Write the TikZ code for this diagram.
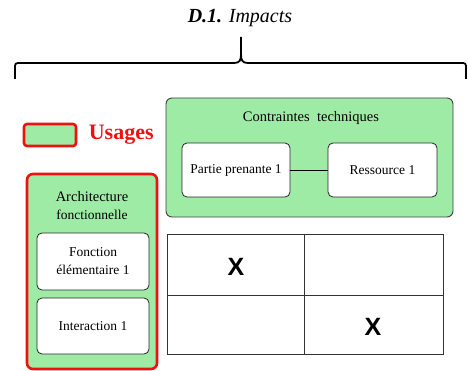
\documentclass[tikz,border=0pt]{standalone}
\usepackage{fontspec}
\setmainfont{Liberation Serif}
\newfontfamily\xfont{Liberation Sans}
\usetikzlibrary{positioning}
\definecolor{usagegreen}{HTML}{9DEBA5}
\definecolor{usagered}{HTML}{EE1111}
\tikzset{
  greenbox/.style={draw=black!75,fill=usagegreen,rounded corners=6pt,line width=0.9pt},
  redbox/.style={draw=usagered,fill=usagegreen,rounded corners=6pt,line width=2.6pt},
  itembox/.style={draw=black!85,fill=white,rounded corners=5pt,line width=0.8pt,
    align=center,font=\fontsize{13.5}{18}\selectfont},
  mark x/.style={font=\xfont\bfseries\fontsize{25}{25}\selectfont}
}
\begin{document}
\begin{tikzpicture}[x=1pt,y=-1pt]
\useasboundingbox (0,0) rectangle (468,371);
\node (title) at (240,18) {\fontsize{20}{22}\selectfont\textbf{\textit{D.1.}} \textit{Impacts}};
\draw[line width=1.8pt]
    (15,79) -- (15,69) .. controls (15,63) .. (21,63) -- (234,63)
    .. controls (240,63) and (241,60) .. (241,54) -- (241,37);
\draw[line width=1.8pt]
    (466,79) -- (466,69) .. controls (466,63) .. (460,63) -- (248,63)
    .. controls (242,63) and (241,60) .. (241,54);
% legend
\node[redbox,rounded corners=3pt,minimum width=52pt,minimum height=22pt] (legend) at (50,135) {};
\node[text=usagered,font=\fontsize{22}{24}\selectfont\bfseries,right=8pt of legend] (usages) {Usages};
% architecture fonctionnelle
\node[redbox,minimum width=130pt,minimum height=195pt] (archi) at (92,271.5) {};
\node[font=\fontsize{14.5}{16}\selectfont] (architxt) at (92,197) {Architecture};
\node[font=\fontsize{13.5}{16}\selectfont] (fonctxt) at (92,215) {fonctionnelle};
\node[itembox,minimum width=112pt,minimum height=57pt] (fonction) at (93,261.5) {Fonction\\élémentaire 1};
\node[itembox,minimum width=112pt,minimum height=56pt] (interaction) at (93,326) {Interaction 1};
% contraintes techniques
\node[greenbox,minimum width=287pt,minimum height=119pt] (contraintes) at (309.5,157.5) {};
\node[font=\fontsize{14.5}{16}\selectfont] (contrtxt) at (311,118) {Contraintes\ \ techniques};
\node[itembox,minimum width=108pt,minimum height=54pt] (partie) at (236,170) {Partie prenante 1};
\node[itembox,minimum width=109pt,minimum height=54pt] (ressource) at (382.5,170) {Ressource 1};
\draw[line width=0.9pt] (partie) -- (ressource);
% matrice
\draw[black!80,line width=0.9pt] (167,234) rectangle (443,354);
\draw[black!80,line width=0.9pt] (304,234) -- (304,354);
\draw[black!80,line width=0.9pt] (167,295) -- (443,295);
\node[mark x] (x1) at (236,267) {X};
\node[mark x] (x2) at (373,327) {X};
\end{tikzpicture}
\end{document}
